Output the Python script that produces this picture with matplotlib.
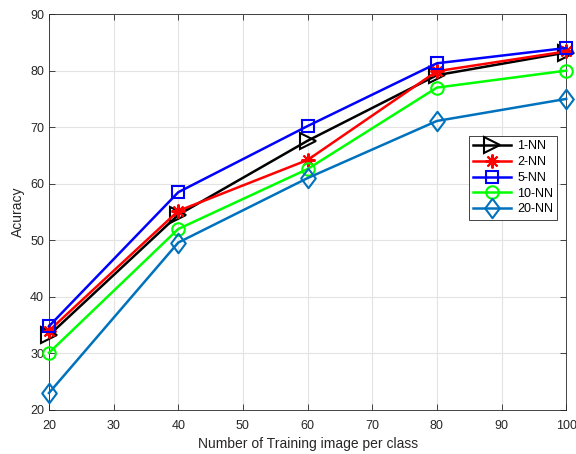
import numpy as np
import matplotlib.pyplot as plt
from matplotlib.path import Path

plt.rcParams['font.family'] = ['Liberation Sans', 'DejaVu Sans']

x = [20, 40, 60, 80, 100]
nn1 = [33.2, 54.5, 67.6, 79.2, 83.2]
nn2 = [34.0, 55.2, 64.2, 79.9, 83.4]
nn5 = [34.8, 58.5, 70.2, 81.3, 84.0]
nn10 = [30.1, 52.0, 62.6, 77.0, 80.0]
nn20 = [23.0, 49.6, 61.0, 71.1, 75.0]
labels = ["1-NN", "2-NN", "5-NN", "10-NN", "20-NN"]

# matlab style diamond (wider than matplotlib 'd')
diamond = Path([(0, 1), (0.75, 0), (0, -1), (-0.75, 0), (0, 1)],
               [Path.MOVETO, Path.LINETO, Path.LINETO, Path.LINETO, Path.CLOSEPOLY])

fig = plt.figure(figsize=(5.76, 4.54), dpi=100)
ax = fig.add_axes([0.085, 0.097, 0.898, 0.872])

styles = [
    (nn1, "k", ">", 11),
    (nn2, "r", (8, 2, 0), 10),
    (nn5, "b", "s", 8),
    (nn10, (0, 1, 0), "o", 9),
    (nn20, (0, 0.447, 0.741), diamond, 14),
]
for (y, c, m, ms), lab in zip(styles, labels):
    ax.plot(x, y, color=c, marker=m, markersize=ms, markerfacecolor="none",
            markeredgewidth=1.5, linewidth=1.8, label=lab, clip_on=False, zorder=3)

ax.set_xlim(20, 100)
ax.set_ylim(20, 90)
ax.set_xticks(np.arange(20, 101, 10))
ax.set_yticks(np.arange(20, 91, 10))
ax.grid(True, color="#e3e3e3", linewidth=0.8)
ax.set_axisbelow(True)
ax.tick_params(direction="in", labelsize=9, length=4, top=True, right=True, width=0.6,
               colors="#262626")
ax.tick_params(axis="x", pad=7.5)
for s in ax.spines.values():
    s.set_linewidth(0.6)
    s.set_color("#262626")
ax.set_xlabel("Number of Training image per class", fontsize=10, labelpad=3, color="#262626")
ax.set_ylabel("Acuracy", fontsize=10, color="#262626")

leg = ax.legend(loc="upper right", bbox_to_anchor=(0.983, 0.692), fontsize=9,
                fancybox=False, framealpha=1, edgecolor="#262626",
                handlelength=3.0, borderpad=0.35, labelspacing=0.3,
                handletextpad=0.5, borderaxespad=0)
leg.get_frame().set_linewidth(0.6)
leg.set_zorder(5)

plt.savefig("out.png", dpi=100)
